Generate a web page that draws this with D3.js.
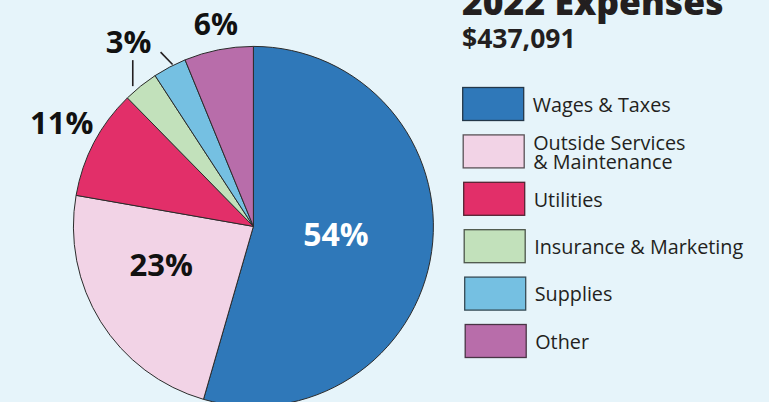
<!DOCTYPE html>
<html>
<head>
<meta charset="utf-8">
<script src="https://cdn.jsdelivr.net/npm/d3@7"></script>
<style>
  html, body { margin: 0; padding: 0; background: #e6f4fa; }
  svg { display: block; }
</style>
</head>
<body>
<svg id="chart" width="769" height="402"></svg>
<script>
// ---- data ----
const categories = ["Wages & Taxes", "Outside Services\n& Maintenance", "Utilities", "Insurance & Marketing", "Supplies", "Other"];
const values = [54.5, 23.3, 9.9, 3.15, 3.0, 6.2];
const colors = ["#2f78b9", "#f2d3e6", "#e22f69", "#c2e1bb", "#75c0e2", "#b86daa"];
const pctLabels = ["54%", "23%", "11%", "3%", "6%"];
const title = "2022 Expenses";
const total = "$437,091";

// ---- layout ----
const W = 769, H = 402;
const cx = 253.4, cy = 226.4, R = 180;
const svg = d3.select("#chart");
svg.append("rect").attr("width", W).attr("height", H).attr("fill", "#e6f4fa");

const pie = d3.pie().sort(null).value(d => d).startAngle(0).endAngle(2 * Math.PI);
const arcs = pie(values);
const arc = d3.arc().innerRadius(0).outerRadius(R);

const g = svg.append("g").attr("transform", `translate(${cx},${cy})`);
g.selectAll("path.slice").data(arcs).join("path")
  .attr("class", "slice")
  .attr("d", arc)
  .attr("fill", (d, i) => colors[i])
  .attr("stroke", "#2b2b2b")
  .attr("stroke-width", 1)
  .attr("stroke-linejoin", "round");

// polar helper (angle clockwise from 12 o'clock)
function polar(a, r) { return [r * Math.sin(a), -r * Math.cos(a)]; }
function at(i, t) { return arcs[i].startAngle + t * (arcs[i].endAngle - arcs[i].startAngle); }

// label placement: [slice index, fraction across slice, radius, font size, fill]
const labelPlace = [
  [0, 0.489, 83, 32, "#ffffff"],
  [1, 0.61, 100, 31, "#111111"],
  [2, 0.52, 218, 31, "#111111"],
  [3, 0.92, 223, 31, "#111111"],
  [5, 0.53, 206, 30, "#111111"]
];
g.selectAll("text.pct").data(labelPlace).join("text")
  .attr("class", "pct")
  .attr("x", d => polar(at(d[0], d[1]), d[2])[0])
  .attr("y", d => polar(at(d[0], d[1]), d[2])[1])
  .attr("dy", "0.36em")
  .attr("text-anchor", "middle")
  .attr("font-family", "'Open Sans', 'Noto Sans', sans-serif")
  .attr("font-weight", 700)
  .attr("font-size", d => d[3])
  .attr("fill", d => d[4])
  .text((d, i) => pctLabels[i]);

// leader lines for the shared 3% label
const p1 = polar(at(3, 0.33), 185);
const p2 = polar(at(4, 0.61), 181);
const leaders = [
  [p1, [p1[0], p1[1] - 26]],
  [p2, [p2[0] - 12, p2[1] - 12.3]]
];
g.selectAll("line.leader").data(leaders).join("line")
  .attr("class", "leader")
  .attr("x1", d => d[0][0]).attr("y1", d => d[0][1])
  .attr("x2", d => d[1][0]).attr("y2", d => d[1][1])
  .attr("stroke", "#231f20").attr("stroke-width", 1.6);

// title
svg.append("text")
  .attr("x", 462).attr("y", 15)
  .attr("font-family", "'Open Sans', sans-serif")
  .attr("font-weight", 800)
  .attr("font-size", 35.5)
  .attr("fill", "#231f20")
  .text(title);
svg.append("text")
  .attr("x", 462).attr("y", 48.3)
  .attr("font-family", "'Open Sans', sans-serif")
  .attr("font-weight", 700)
  .attr("font-size", 26.5)
  .attr("fill", "#231f20")
  .text(total);

// legend
const lg = svg.append("g");
const items = lg.selectAll("g.item").data(categories).join("g")
  .attr("class", "item")
  .attr("transform", (d, i) => `translate(${462.7 + i * 0.5},${87.5 + i * 47.4})`);
items.append("rect")
  .attr("width", 61).attr("height", 33)
  .attr("fill", (d, i) => colors[i])
  .attr("stroke", (d, i) => d3.interpolateRgb(colors[i], "#1e1e1e")(0.72))
  .attr("stroke-width", 1.3);
items.append("text")
  .attr("x", 70)
  .attr("font-family", "'Open Sans', sans-serif")
  .attr("font-size", 19.8)
  .attr("fill", "#231f20")
  .each(function (d) {
    const lines = d.split("\n");
    const t = d3.select(this);
    const y0 = lines.length > 1 ? 15 : 24.3;
    lines.forEach((ln, k) => {
      t.append("tspan").attr("x", 70).attr("y", y0 + k * 19.3).text(ln);
    });
  });
</script>
</body>
</html>
